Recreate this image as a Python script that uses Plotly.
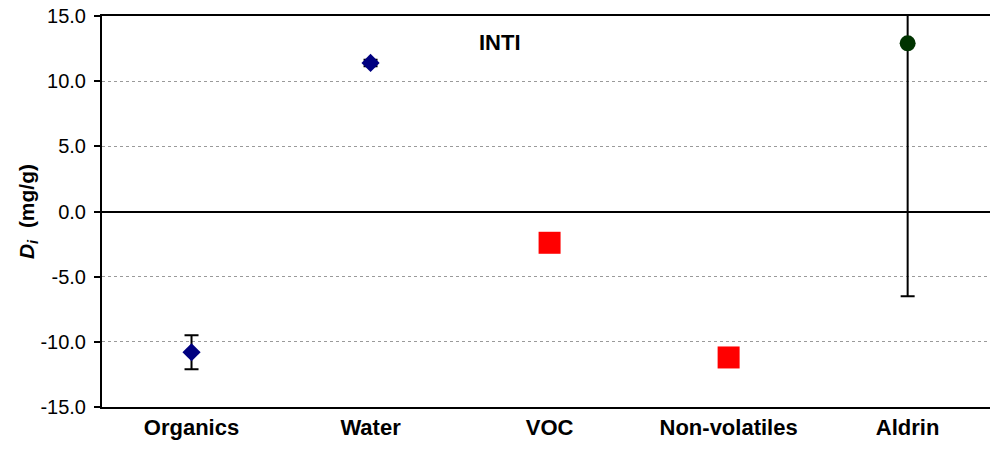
import plotly.graph_objects as go

categories = ["Organics", "Water", "VOC", "Non-volatiles", "Aldrin"]

# measured D_i values (mg/g) and their error bars
blue_x = ["Organics", "Water"]
blue_y = [-10.8, 11.4]
blue_err = [1.3, 0.25]

red_x = ["VOC", "Non-volatiles"]
red_y = [-2.4, -11.2]

green_x = ["Aldrin"]
green_y = [12.9]
green_err = [19.4]

y_ticks = [-15, -10, -5, 0, 5, 10, 15]
y_ticktext = ["-15.0", "-10.0", "-5.0", "0.0", "5.0", "10.0", "15.0"]

fig = go.Figure()

fig.add_trace(go.Scatter(
    x=blue_x, y=blue_y, mode="markers",
    marker=dict(symbol="diamond", size=14, color="#000080"),
    error_y=dict(type="data", array=blue_err, color="black", thickness=2, width=7),
))
fig.add_trace(go.Scatter(
    x=red_x, y=red_y, mode="markers",
    marker=dict(symbol="square", size=22, color="#FF0000"),
))
fig.add_trace(go.Scatter(
    x=green_x, y=green_y, mode="markers",
    marker=dict(symbol="circle", size=16, color="#003300"),
    error_y=dict(type="data", array=green_err, color="black", thickness=2, width=7),
))

fig.add_annotation(
    text="<b>INTI</b>", xref="paper", yref="paper", x=0.448, y=0.933,
    xanchor="center", yanchor="middle",
    showarrow=False, font=dict(family="Arial, Liberation Sans", size=22, color="black"),
)

fig.update_layout(
    width=990, height=449,
    margin=dict(l=102, r=0, t=16, b=42),
    paper_bgcolor="white", plot_bgcolor="white",
    showlegend=False,
    font=dict(family="Arial, Liberation Sans", color="black"),
    xaxis=dict(
        type="category", categoryorder="array", categoryarray=categories,
        range=[-0.5, 4.46], showgrid=False, showline=True, linecolor="black",
        linewidth=2, mirror=True, ticks="", automargin=False,
        tickfont=dict(size=22, color="black"),
        tickprefix="<b>", ticksuffix="</b>",
    ),
    yaxis=dict(
        range=[-15, 15], tickvals=y_ticks, ticktext=y_ticktext,
        showline=True, linecolor="black", linewidth=2, automargin=False,
        ticks="outside", ticklen=6, tickwidth=2, tickcolor="black",
        ticklabelstandoff=4, ticklabeloverflow="allow",
        showgrid=True, gridcolor="#9a9a9a", gridwidth=1, griddash="dot",
        zeroline=True, zerolinecolor="black", zerolinewidth=2,
        tickfont=dict(size=20, color="black"),
        title=dict(text="<b><i>D<sub>i</sub></i>  (mg/g)</b>", font=dict(size=21), standoff=0),
    ),
)

# drop the page's default body margin so the figure sits at the window corner
fig.write_html("out.html", config={"displayModeBar": False},
               post_script="document.body.style.margin = '0';")
